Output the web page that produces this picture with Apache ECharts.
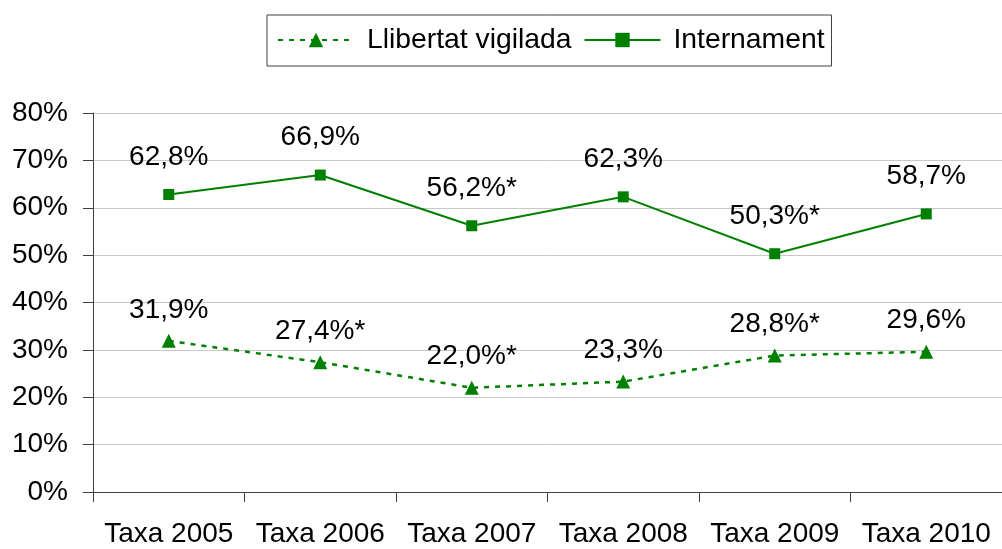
<!DOCTYPE html>
<html>
<head>
<meta charset="UTF-8">
<title></title>
<style type="text/css">
	html, body { margin: 0; padding: 0; background: #fff; }
	#main { width: 1002px; height: 549px; }
</style>
<script type="text/javascript" src="https://cdn.jsdelivr.net/npm/echarts@6/dist/echarts.min.js"></script>
</head>
<body>
<div id="main"></div>
<script>
// categories and values
var categories = ["Taxa 2005", "Taxa 2006", "Taxa 2007", "Taxa 2008", "Taxa 2009", "Taxa 2010"];
var llibertat = [31.9, 27.4, 22.0, 23.3, 28.8, 29.6];
var llibertatStar = [0, 1, 1, 0, 1, 0];
var internament = [62.8, 66.9, 56.2, 62.3, 50.3, 58.7];
var internamentStar = [0, 0, 1, 0, 1, 0];
var yTicks = [0, 10, 20, 30, 40, 50, 60, 70, 80];

var green = '#008000';
var font = 'Liberation Sans, Arial, sans-serif';

function fmt(stars){
	return function(p){
		return p.value.toFixed(1).replace('.', ',') + '%' + (stars[p.dataIndex] ? '*' : '');
	};
}

var myChart = echarts.init(document.getElementById('main'));
var option = {
	animation: false,
	textStyle: { fontFamily: font },
	legend: {
		left: 267,
		top: 15,
		padding: [11, 7, 12, 10],
		itemGap: 12,
		itemWidth: 76,
		itemHeight: 18,
		borderColor: '#404040',
		borderWidth: 1,
		textStyle: { fontSize: 28.3, color: '#000', fontFamily: font, padding: [0, 0, 0, 8] },
		data: ['Llibertat vigilada', 'Internament']
	},
	grid: {
		left: 93,
		right: -10,
		top: 113,
		bottom: 57
	},
	xAxis: {
		type: 'category',
		data: categories,
		boundaryGap: true,
		axisLine: { lineStyle: { color: '#404040', width: 1 } },
		axisTick: { show: true, length: 10, lineStyle: { color: '#404040' } },
		axisLabel: { fontSize: 28, color: '#000', margin: 28, fontFamily: font, interval: 0 }
	},
	yAxis: {
		type: 'value',
		min: yTicks[0],
		max: yTicks[yTicks.length - 1],
		interval: 10,
		axisLine: { show: true, lineStyle: { color: '#404040', width: 1 } },
		axisTick: { show: true, length: 10, lineStyle: { color: '#404040' } },
		axisLabel: { fontSize: 28, color: '#000', margin: 25, fontFamily: font, formatter: '{value}%' },
		splitLine: { lineStyle: { color: '#c8c8c8', width: 1 } }
	},
	series: [
		{
			name: 'Llibertat vigilada',
			type: 'line',
			data: llibertat,
			symbol: 'triangle',
			symbolSize: 14,
			color: green,
			itemStyle: { color: green },
			lineStyle: { color: green, width: 2.5, type: [5, 6] },
			label: {
				show: true,
				position: 'top',
				distance: 10,
				fontSize: 28,
				color: '#000',
				fontFamily: font,
				formatter: fmt(llibertatStar)
			}
		},
		{
			name: 'Internament',
			type: 'line',
			data: internament,
			symbol: 'rect',
			symbolSize: 11,
			color: green,
			itemStyle: { color: green },
			lineStyle: { color: green, width: 2 },
			label: {
				show: true,
				position: 'top',
				distance: 18,
				fontSize: 28,
				color: '#000',
				fontFamily: font,
				formatter: fmt(internamentStar)
			}
		}
	]
};
myChart.setOption(option);
</script>
</body>
</html>
